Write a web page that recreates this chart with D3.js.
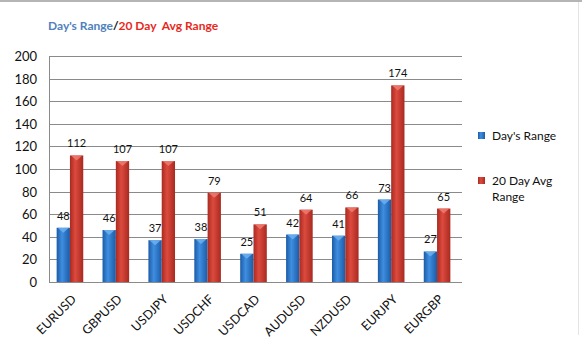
<!DOCTYPE html>
<html><head><meta charset="utf-8">
<script src="https://cdn.jsdelivr.net/npm/d3@7"></script>
<style>body{margin:0;background:#fff}svg{display:block}</style>
</head><body><svg id="c" width="582" height="357"></svg>
<script>
const categories = ["EURUSD","GBPUSD","USDJPY","USDCHF","USDCAD","AUDUSD","NZDUSD","EURJPY","EURGBP"];
const daysRange = [48,46,37,38,25,42,41,73,27];
const avgRange20 = [112,107,107,79,51,64,66,174,65];
const seriesNames = ["Day's Range","20 Day Avg Range"];
const yTicks = [0,20,40,60,80,100,120,140,160,180,200];

(function(){
const svg = d3.select("#c");
const font = "Lato, 'Open Sans', sans-serif";
const pL = 49, pR = 462, pT = 56, pB = 282;

// borders
svg.append("rect").attr("x",0).attr("y",0).attr("width",582).attr("height",2).attr("fill","#b5b5b5");
svg.append("line").attr("x1",578.5).attr("x2",578.5).attr("y1",2).attr("y2",335).attr("stroke","#e4e4e4");

const defs = svg.append("defs");
function grad(id, edge, mid){
  const g = defs.append("linearGradient").attr("id",id).attr("x1","0").attr("x2","1").attr("y1","0").attr("y2","0");
  g.append("stop").attr("offset","0").attr("stop-color",edge);
  g.append("stop").attr("offset","0.4").attr("stop-color",mid);
  g.append("stop").attr("offset","1").attr("stop-color",edge);
}
grad("gBlue","#1b5ba6","#3f8ee0");
grad("gRed","#a82a20","#dd4a3e");

const y = d3.scaleLinear().domain([0,200]).range([pB, pT]);
const x0 = d3.scaleBand().domain(categories).range([47, 460]).paddingInner(0).paddingOuter(0);
const barW = 13.3;

// gridlines
svg.append("g").selectAll("line").data(yTicks.filter(d=>d>0)).join("line")
  .attr("x1",pL).attr("x2",pR).attr("y1",d=>Math.round(y(d))+0.5).attr("y2",d=>Math.round(y(d))+0.5)
  .attr("stroke","#8a8a8a").attr("stroke-width",1);

// y axis
const yAxis = svg.append("g").attr("transform",`translate(${pL},0)`)
  .call(d3.axisLeft(y).tickValues(yTicks).tickSize(0).tickPadding(12));
yAxis.select(".domain").remove();
yAxis.selectAll("text").attr("font-family",font).attr("font-size",13).attr("fill","#111");
yAxis.selectAll(".tick").attr("transform",d=>`translate(0,${Math.round(y(d))+0.5})`);

// bars
const series = [
  {name:seriesNames[0], values:daysRange, fill:"url(#gBlue)", cap:"#6fb0f0", off:-barW},
  {name:seriesNames[1], values:avgRange20, fill:"url(#gRed)", cap:"#ef7b70", off:0}
];
series.forEach(s=>{
  const g = svg.append("g");
  categories.forEach((c,i)=>{
    const cx = x0(c) + x0.bandwidth()/2;
    const bx = cx + s.off;
    const yt = y(s.values[i]);
    g.append("rect").attr("x",bx).attr("y",yt).attr("width",barW).attr("height",pB-yt).attr("fill",s.fill);
    g.append("path").attr("d",`M${bx+1},${yt}L${bx+barW-1},${yt}L${bx+barW/2},${yt+5}Z`).attr("fill",s.cap).attr("opacity",0.85);
    g.append("text").attr("x",bx+barW/2).attr("y",yt-8).attr("text-anchor","middle")
      .attr("font-family",font).attr("font-size",11).attr("fill","#111").text(s.values[i]);
  });
});

// axes lines
svg.append("line").attr("x1",pL+0.5).attr("x2",pL+0.5).attr("y1",pT).attr("y2",pB).attr("stroke","#8a8a8a");
svg.append("line").attr("x1",pL).attr("x2",pR).attr("y1",pB+0.5).attr("y2",pB+0.5).attr("stroke","#8a8a8a");

// x labels
const xAxis = svg.append("g").attr("transform",`translate(0,${pB})`)
  .call(d3.axisBottom(x0).tickSize(0).tickPadding(0));
xAxis.select(".domain").remove();
xAxis.selectAll("text").attr("font-family",font).attr("font-size",12.5).attr("fill","#111")
  .attr("text-anchor","end").attr("dy",0)
  .attr("transform","translate(7,18) rotate(-45)");

// title
const t = svg.append("text").attr("x",48).attr("y",30).attr("font-family",font).attr("font-size",12).attr("font-weight","bold");
t.append("tspan").attr("fill","#4f81bd").text(seriesNames[0]);
t.append("tspan").attr("fill","#111").text("/");
t.append("tspan").attr("fill","#e8281c").text("20 Day\u00a0 Avg Range");

// legend
const lg = svg.append("g");
lg.append("rect").attr("x",478).attr("y",132).attr("width",7).attr("height",7).attr("fill","url(#gBlue)");
lg.append("text").attr("x",492).attr("y",140).attr("font-family",font).attr("font-size",12).attr("fill","#111").text(seriesNames[0]);
lg.append("rect").attr("x",478).attr("y",177).attr("width",7).attr("height",7).attr("fill","url(#gRed)");
const lt = lg.append("text").attr("font-family",font).attr("font-size",12).attr("fill","#111");
lt.append("tspan").attr("x",492).attr("y",185).text("20 Day Avg");
lt.append("tspan").attr("x",492).attr("y",201).text("Range");
})();
</script></body></html>
